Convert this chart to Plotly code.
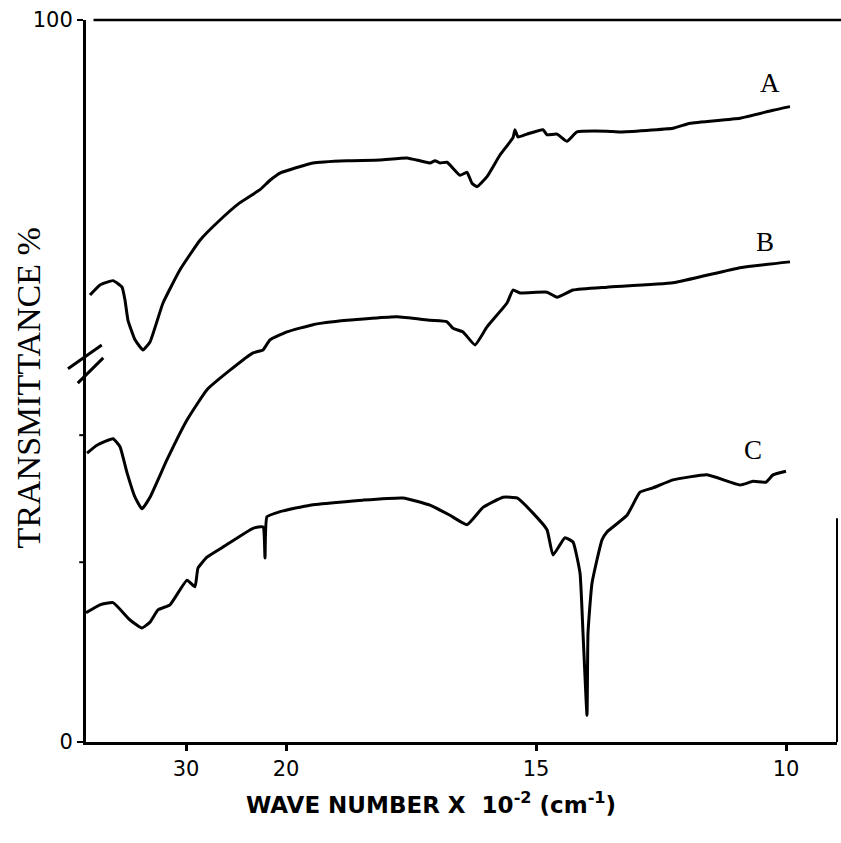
import numpy as np
import plotly.graph_objects as go

# ---- data: wavenumber (cm^-1) and transmittance (%) ----
wn_A = [3960, 3860, 3730, 3640, 3610, 3580, 3510, 3430, 3360, 3230, 3060, 2860, 2660, 2460,
        2260, 2160, 2060, 1946, 1878, 1812, 1758, 1732, 1712, 1702, 1692, 1678, 1652, 1638,
        1628, 1618, 1598, 1572, 1546, 1542, 1536, 1518, 1486, 1478, 1458, 1438, 1418, 1358,
        1332, 1226, 1192, 1092, 1026, 992]
T_A = [61.9, 63.3, 63.9, 63.0, 61.2, 58.4, 55.7, 54.3, 55.4, 60.8, 65.4, 69.5, 72.3, 74.7,
       76.5, 77.8, 78.8, 80.2, 80.5, 80.6, 80.9, 80.5, 80.2, 80.5, 80.2, 80.3, 78.5, 78.9,
       77.4, 76.9, 78.3, 81.3, 83.7, 84.8, 83.8, 84.2, 84.8, 84.1, 84.2, 83.2, 84.5, 84.6,
       84.5, 85.0, 85.7, 86.4, 87.5, 88.0]

wn_B = [3990, 3890, 3730, 3660, 3590, 3510, 3440, 3360, 3190, 2990, 2790, 2560, 2330, 2230,
        2160, 1998, 1946, 1878, 1778, 1712, 1678, 1666, 1646, 1622, 1598, 1558, 1546, 1532,
        1478, 1458, 1426, 1358, 1226, 1092, 992]
T_B = [40.0, 41.1, 42.0, 40.9, 37.3, 33.9, 32.3, 33.9, 39.1, 44.6, 48.8, 51.5, 53.9, 54.3,
       55.7, 56.8, 57.8, 58.4, 58.9, 58.4, 58.2, 57.3, 56.8, 55.0, 57.5, 60.8, 62.6, 62.2,
       62.3, 61.6, 62.6, 63.0, 63.6, 65.7, 66.5]

wn_C = [4000, 3860, 3730, 3560, 3440, 3360, 3280, 3160, 2990, 2910, 2880, 2790, 2630, 2330,
        2230, 2210, 2190, 2060, 1952, 1846, 1766, 1712, 1672, 1638, 1606, 1566, 1538, 1506,
        1478, 1466, 1442, 1426, 1412, 1406, 1398, 1396, 1388, 1368, 1358, 1318, 1292, 1266,
        1226, 1158, 1092, 1066, 1040, 1026, 1000]
T_C = [17.9, 19.0, 19.3, 16.9, 15.8, 16.6, 18.3, 19.0, 22.4, 21.5, 24.1, 25.6, 27.0, 29.6,
       29.8, 25.5, 31.2, 31.9, 32.8, 33.5, 33.8, 32.8, 31.4, 30.1, 32.5, 33.9, 33.8, 31.7,
       29.4, 25.9, 28.3, 27.7, 23.4, 15.1, 3.7, 15.1, 22.0, 28.0, 29.1, 31.4, 34.6, 35.2,
       36.3, 37.0, 35.6, 36.1, 36.0, 37.0, 37.5]

series_names = ["A", "B", "C"]
label_wn = [1032, 1042, 1066]
label_T = [91.3, 69.3, 40.4]

x_tick_wn = [3000, 2000, 1500, 1000]
x_tick_text = ["30", "20", "15", "10"]
y_tick_vals = [0, 100]
y_tick_text = ["0", "100"]
y_minor_ticks = [24.9, 42.5]


def chart_x(wn):
    """IR chart abscissa: 4000-2000 cm^-1 compressed, 5x expansion below 2000 cm^-1."""
    wn = np.asarray(wn, dtype=float)
    return np.where(wn >= 2000, (4000 - wn) / 100.0, 20 + (2000 - wn) / 20.0)


fig = go.Figure()
for wn, T in [(wn_A, T_A), (wn_B, T_B), (wn_C, T_C)]:
    fig.add_trace(go.Scatter(x=chart_x(wn), y=T, mode="lines",
                             line=dict(color="black", width=3, shape="spline", smoothing=0.4),
                             hoverinfo="skip", showlegend=False))

annotations = []
for name, w, t in zip(series_names, label_wn, label_T):
    annotations.append(dict(x=float(chart_x([w])[0]), y=t, text=name, showarrow=False,
                            font=dict(family="Liberation Serif", size=27, color="black")))

annotations.append(dict(xref="paper", yref="paper", x=-0.077, y=0.49, text="TRANSMITTANCE %",
                        textangle=-90, showarrow=False, xanchor="center", yanchor="middle",
                        font=dict(family="Liberation Serif", size=34, color="black")))
annotations.append(dict(xref="paper", yref="paper", x=0.459, y=-0.085,
                        text="<b>WAVE NUMBER X  10<sup>-2</sup> (cm<sup>-1</sup>)</b>",
                        showarrow=False, xanchor="center", yanchor="middle",
                        font=dict(family="DejaVu Sans", size=23, color="black")))

shapes = [
    # top border
    dict(type="line", xref="paper", yref="paper", x0=0.01, x1=1.01, y0=1.0, y1=1.0,
         line=dict(color="black", width=2.5)),
    # partial right border
    dict(type="line", xref="paper", yref="paper", x0=1.0, x1=1.0, y0=0.0, y1=0.31,
         line=dict(color="black", width=2)),
    # axis break marks
    dict(type="line", xref="paper", yref="paper", x0=-0.024, x1=0.021, y0=0.517, y1=0.55,
         line=dict(color="black", width=3)),
    dict(type="line", xref="paper", yref="paper", x0=-0.011, x1=0.023, y0=0.497, y1=0.532,
         line=dict(color="black", width=3)),
]
# unlabeled ticks on the transmittance axis
for v in y_minor_ticks:
    shapes.append(dict(type="line", xref="paper", yref="y", x0=-0.009, x1=0.0, y0=v, y1=v,
                       line=dict(color="black", width=2)))

fig.update_layout(
    width=841, height=843,
    margin=dict(l=86, r=4, t=20, b=101),
    paper_bgcolor="white", plot_bgcolor="white",
    showlegend=False,
    annotations=annotations,
    shapes=shapes,
    xaxis=dict(range=[0, 75.1], tickvals=chart_x(x_tick_wn).tolist(), ticktext=x_tick_text,
               showgrid=False, zeroline=False, showline=True, linecolor="black", linewidth=3,
               ticks="outside", ticklen=6, tickwidth=3, tickcolor="black",
               tickfont=dict(family="DejaVu Sans", size=21, color="black")),
    yaxis=dict(range=[0, 100], tickvals=y_tick_vals, ticktext=y_tick_text,
               showgrid=False, zeroline=False, showline=True, linecolor="black", linewidth=3,
               ticks="outside", ticklen=6, tickwidth=2, tickcolor="black",
               tickfont=dict(family="DejaVu Sans", size=21, color="black")),
)

fig.write_html("out.html")
